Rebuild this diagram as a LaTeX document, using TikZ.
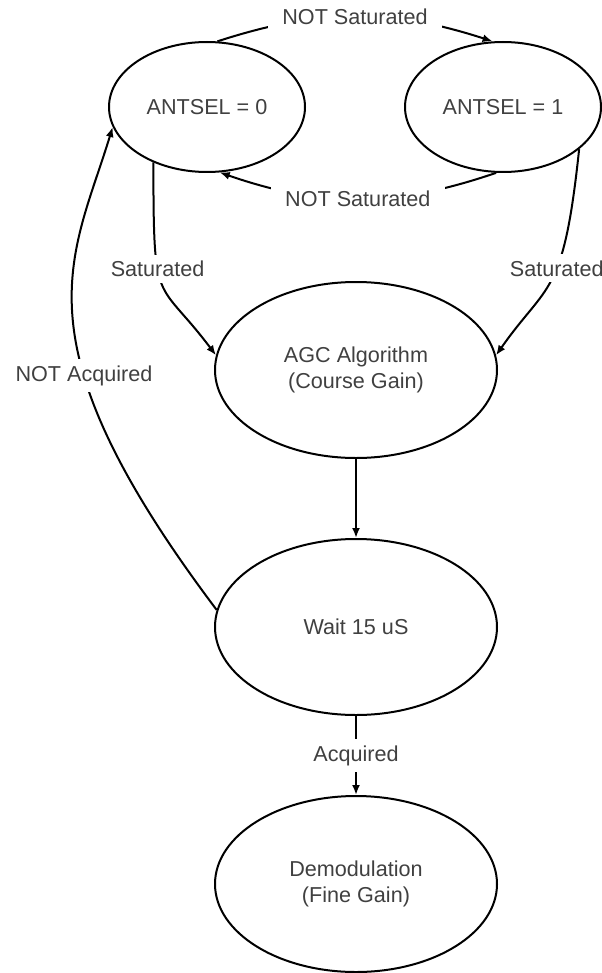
\documentclass[tikz,border=0pt]{standalone}
\usepackage{fontspec}
\setmainfont{Liberation Sans}
\usepackage{tikz}
\usetikzlibrary{
    arrows.meta,
    positioning,
    shapes.geometric
}

\begin{document}
\begin{tikzpicture}[
x=0.5pt, y=0.5pt,
line width=1pt,
node distance=39.5pt,
state/.style={
draw,
ellipse,
inner sep=0pt,
minimum width=141pt,
minimum height=88pt,
align=center,
text=black!75,
font=\fontsize{10.8}{13}\selectfont
},
topstate/.style={
state,
minimum width=98pt,
minimum height=65pt
},
lbl/.style={
fill=white,
inner xsep=7pt,
inner ysep=3pt,
text=black!75,
font=\fontsize{10.8}{13}\selectfont
},
arr/.style={-{Latex[length=5pt,width=4pt]}}
]

\useasboundingbox (0,0) rectangle (601,-973);

\node[topstate] (ant0) at (207,-107)
{ANTSEL = 0};

\node[topstate, right=49pt of ant0] (ant1)
{ANTSEL = 1};

\node[state] (agc) at (356,-370)
{AGC Algorithm\\(Course Gain)};

\node[state, below=of agc] (wait)
{Wait 15 uS};

\node[state, below=of wait] (demod)
{Demodulation\\(Fine Gain)};

% switching antennas
\draw[arr]
(ant0.81) to[bend left=18] node[lbl] {NOT Saturated} (ant1.99);

\draw[arr]
(ant1.-96) to[bend left=19] node[lbl] {NOT Saturated} (ant0.-79);

% saturated -> gain
\draw[arr]
(ant0.226) to[out=-90, in=127, out looseness=1.88, in looseness=1.25]
node[lbl, pos=0.38] {Saturated} (agc.174);

\draw[arr]
(ant1.-29) to[out=-96, in=55, out looseness=1.73, in looseness=1.04]
node[lbl, pos=0.42] {Saturated} (agc.6);

\draw[arr]
(agc) -- (wait);

% back to start
\draw[arr]
(wait.173) to[out=127, in=-107, out looseness=1.76, in looseness=0.72]
node[lbl, pos=0.37] {NOT Acquired} (ant0.192);

\draw[arr]
(wait) -- node[lbl] {Acquired} (demod);

\end{tikzpicture}
\end{document}
